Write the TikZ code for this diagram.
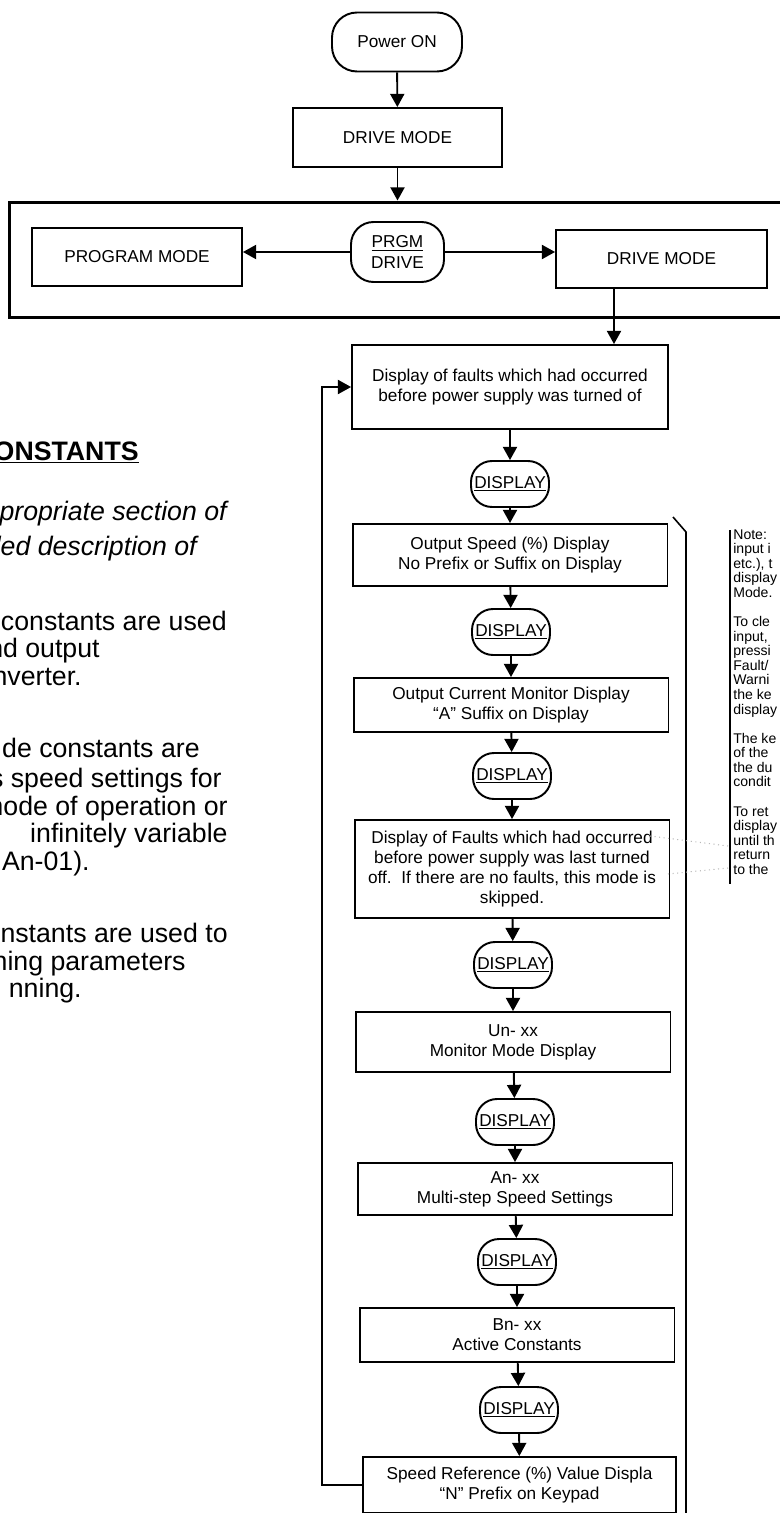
\documentclass[tikz,border=0pt]{standalone}
\usepackage{fontspec}
\setmainfont{Liberation Sans}
\usetikzlibrary{arrows.meta,positioning}
\newcommand{\boxfont}{\fontsize{9.8}{11.4}\selectfont}
\newcommand{\sidefont}{\fontsize{15.2}{16}\selectfont}
\newcommand{\notefont}{\fontsize{8}{8.3}\selectfont}

\begin{document}
\begin{tikzpicture}[x=0.02cm, y=-0.02cm,
  sbox/.style={rectangle, draw, line width=1.1pt, minimum width=6.3cm,
               font=\boxfont, align=center, inner sep=1pt},
  pill/.style={rectangle, draw, line width=1.1pt, rounded corners=0.42cm,
               minimum width=1.56cm, minimum height=0.92cm,
               font=\boxfont, align=center, inner sep=1pt},
  side/.style={font=\sidefont, anchor=base east, inner sep=0pt},
  arr/.style={-{Triangle[length=7.5pt,width=8pt]}, line width=1.1pt}
]
\useasboundingbox (0,0) rectangle (779,1513);

% Top part
\node[pill, minimum width=2.6cm, minimum height=1.18cm, rounded corners=0.5cm] (pwr) at (397,42) {Power ON};
\node[sbox, minimum width=4.18cm, minimum height=1.18cm] (dm1) at (397.5,137.5) {DRIVE MODE};

% Mode selection frame
\node[rectangle, draw, line width=1.7pt, minimum width=16cm, minimum height=2.32cm] (loop) at (409,260) {};
\node[sbox, minimum width=4.2cm, minimum height=1.16cm] (pm) at (137,257) {PROGRAM MODE};
\node[pill, minimum width=1.86cm, minimum height=1.2cm, rounded corners=0.45cm] (prgm) at (397.5,252) {\underline{PRGM}\\DRIVE};
\node[sbox, minimum width=4.22cm, minimum height=1.16cm] (dm2) at (661.5,259) {DRIVE MODE};
\coordinate (drop) at (614,288);

% Display sequence
\node[sbox, minimum width=6.32cm, minimum height=1.68cm] (b0) at (510,387)
  {Display of faults which had occurred\\before power supply was turned of};
\node[pill] (p1) at (510,484) {\underline{DISPLAY}};
\node[sbox, minimum height=1.24cm] (b1) at (510,555)
  {Output Speed (\%) Display\\No Prefix or Suffix on Display};
\node[pill] (p2) at (511,632) {\underline{DISPLAY}};
\node[sbox, minimum height=1.08cm] (b2) at (511,705)
  {Output Current Monitor Display\\``A'' Suffix on Display};
\node[pill] (p3) at (512,776) {\underline{DISPLAY}};
\node[sbox, minimum height=1.96cm] (b3) at (512,869)
  {Display of Faults which had occurred\\before power supply was last turned\\off.\ \ If there are no faults, this mode is\\skipped.};
\node[pill] (p4) at (513,965) {\underline{DISPLAY}};
\node[sbox, minimum height=1.2cm] (b4) at (513,1042)
  {Un- xx\\Monitor Mode Display};
\node[pill] (p5) at (515,1122) {\underline{DISPLAY}};
\node[sbox, minimum height=1.04cm] (b5) at (515,1189)
  {An- xx\\Multi-step Speed Settings};
\node[pill] (p6) at (517,1262) {\underline{DISPLAY}};
\node[sbox, minimum height=1.08cm] (b6) at (517,1335)
  {Bn- xx\\Active Constants};
\node[pill] (p7) at (519,1410) {\underline{DISPLAY}};
\node[sbox, minimum width=6.26cm, minimum height=1.12cm] (b7) at (519.5,1485)
  {Speed Reference (\%) Value Displa\\``N'' Prefix on Keypad};

% Arrows
\draw[arr] (pwr) -- (dm1);
\draw[arr] (dm1) -- (dm1 |- loop.north);
\draw[arr] (prgm) -- (prgm -| pm.east);
\draw[arr] (prgm) -- (prgm -| dm2.west);
\draw[arr] (drop) -- (drop |- b0.north);
\draw[arr] (b0) -- (p1);
\draw[arr] (p1) -- (b1);
\draw[arr] (b1) -- (p2);
\draw[arr] (p2) -- (b2);
\draw[arr] (b2) -- (p3);
\draw[arr] (p3) -- (b3);
\draw[arr] (b3) -- (p4);
\draw[arr] (p4) -- (b4);
\draw[arr] (b4) -- (p5);
\draw[arr] (p5) -- (b5);
\draw[arr] (b5) -- (p6);
\draw[arr] (p6) -- (b6);
\draw[arr] (b6) -- (p7);
\draw[arr] (p7) -- (b7);
\draw[arr] (b7.west) -- ++(-40,0) |- (b0.west);

% Bracket and note
\draw[line width=0.9pt] (673,517) -- (686,532) -- (686,1513);
\draw[line width=1.1pt] (730,530) -- (730,884);
\node[font=\notefont, align=left, anchor=north west, inner sep=0pt] (note) at (733,529)
  {Note:\\input i\\etc.), t\\display\\Mode.\\[8.3pt]
   To cle\\input,\\pressi\\Fault/\\Warni\\the ke\\display\\[8.3pt]
   The ke\\of the\\the du\\condit\\[8.3pt]
   To ret\\display\\until th\\return\\to the};
\draw[gray!55, dotted, line width=0.6pt] (650,836) -- (728,846);
\draw[gray!55, dotted, line width=0.6pt] (668,874) -- (728,868);

% Side text
\node[side, font=\sidefont\bfseries] (t0) at (139,460) {\underline{ONSTANTS}};
\node[side, font=\sidefont\itshape] (t1) at (227,520) {propriate section of};
\node[side, font=\sidefont\itshape] (t2) at (197,555) {led description of};
\node[side] (t3) at (227,630) {constants are used};
\node[side] (t4) at (100,657) {nd output};
\node[side] (t5) at (82,685) {nverter.};
\node[side] (t6) at (200,757) {de constants are};
\node[side] (t7) at (222,787) {s speed settings for};
\node[side] (t8) at (228,815) {mode of operation or};
\node[side] (t9) at (228,842) {infinitely variable};
\node[side] (t10) at (90,870) {An-01).};
\node[side] (t11) at (228,942) {nstants are used to};
\node[side] (t12) at (186,970) {ning parameters};
\node[side] (t13) at (82,997) {nning.};
\end{tikzpicture}
\end{document}
